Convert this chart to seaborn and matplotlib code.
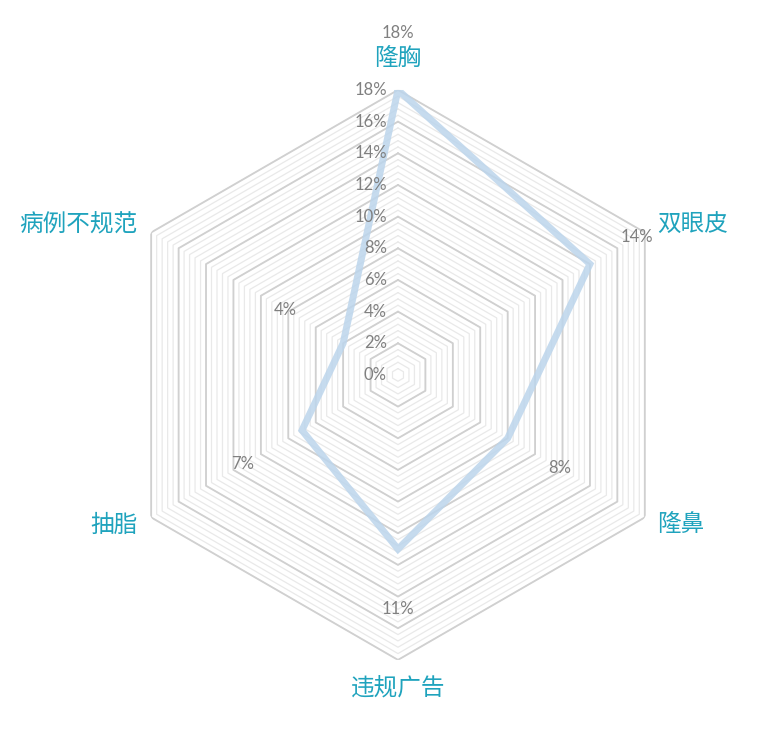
import matplotlib
matplotlib.use("Agg")
import matplotlib.pyplot as plt
import matplotlib.transforms as mtransforms
import seaborn as sns
import numpy as np

categories = ["隆胸", "双眼皮", "隆鼻", "违规广告", "抽脂", "病例不规范"]
values = [18, 14, 8, 11, 7, 4]
major_ticks = [0, 2, 4, 6, 8, 10, 12, 14, 16, 18]
tick_labels = [f"{t}%" for t in major_ticks]
value_labels = [f"{v}%" for v in values]

sns.set_theme(style="white")
plt.rcParams["font.family"] = ["Noto Sans CJK SC", "DejaVu Sans"]
num_font = ["Lato", "DejaVu Sans"]

fig = plt.figure(figsize=(7.63, 7.29), dpi=100)
ax = fig.add_axes([0.1481, 0.0947, 0.747, 0.782], projection="polar")
ax.set_theta_zero_location("N")
ax.set_theta_direction(-1)
ax.set_ylim(0, 18)
ax.grid(False)
ax.spines["polar"].set_visible(False)
ax.set_xticks([])
ax.set_yticks([])

n = len(categories)
angles = np.arange(n) * 2 * np.pi / n
closed = np.append(angles, angles[0])

# hexagon grid: light minor rings, darker every 2%
for lvl in np.arange(0.4, 18.01, 0.4):
    ax.plot(closed, [lvl] * (n + 1), color="#e9e9e9", lw=0.9, zorder=1)
for lvl in major_ticks[1:]:
    ax.plot(closed, [lvl] * (n + 1), color="#d0d0d0", lw=1.3, zorder=2)

# data line
ax.plot(closed, values + values[:1], color="#bcd5ec", lw=5, alpha=0.85,
        solid_joinstyle="miter", zorder=3)

# radial tick labels along the top axis
off = mtransforms.ScaledTranslation(-8 / 72, 0, fig.dpi_scale_trans)
for t, lab in zip(major_ticks, tick_labels):
    ax.text(0, t, lab, ha="right", va="center", fontsize=12, family=num_font,
            color="#808080", transform=ax.transData + off, zorder=4)

# data value labels (placed outward from the points)
label_r = [21.6, 17.4, 11.8, 14.8, 11.3, 8.2]
for a, r, lab in zip(angles, label_r, value_labels):
    ax.text(a, r, lab, ha="center", va="center", fontsize=12, family=num_font,
            color="#808080", zorder=4)

# category labels
cat_pos = [(0.0, 20.0, "center"), (angles[1], 18.9, "left"),
           (angles[2], 18.9, "left"), (angles[3], 19.8, "center"),
           (angles[4], 19.0, "right"), (angles[5], 19.0, "right")]
for (a, r, ha), lab in zip(cat_pos, categories):
    ax.text(a, r, lab, ha=ha, va="center", fontsize=17,
            color="#1fa3bd", fontweight="light", zorder=4)

fig.savefig("out.png", dpi=100, facecolor="white")
